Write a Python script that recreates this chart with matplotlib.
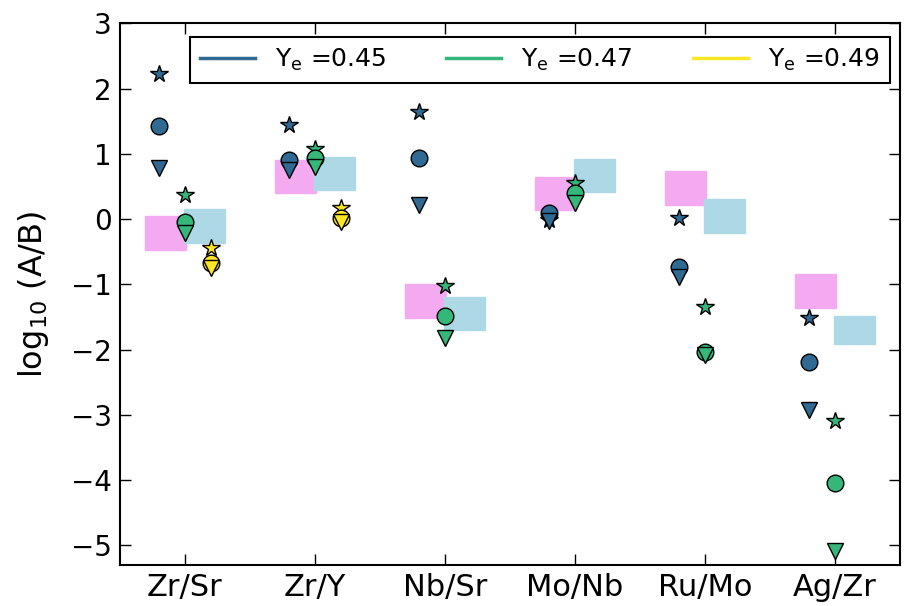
import numpy as np
import matplotlib
matplotlib.use("Agg")
import matplotlib.pyplot as plt
from matplotlib.lines import Line2D

# ratios on the x axis
categories = ['Zr/Sr', 'Zr/Y', 'Nb/Sr', 'Mo/Nb', 'Ru/Mo', 'Ag/Zr']

# observed ranges (pink / light blue boxes)
pink_lo = [-0.48, 0.40, -1.51, 0.14, 0.22, -1.36]
pink_hi = [0.04, 0.91, -0.99, 0.65, 0.73, -0.84]
blue_lo = [-0.36, 0.44, -1.70, 0.41, -0.21, -1.92]
blue_hi = [0.15, 0.95, -1.19, 0.92, 0.31, -1.48]

# model values for each Ye (star, circle, triangle)
star_45 = [2.22, 1.44, 1.64, -0.02, 0.02, -1.51]
circ_45 = [1.42, 0.90, 0.93, 0.10, -0.73, -2.19]
tri_45 = [0.78, 0.75, 0.21, -0.03, -0.88, -2.92]

star_47 = [0.37, 1.07, -1.02, 0.55, -1.34, -3.10]
circ_47 = [-0.05, 0.93, -1.49, 0.40, -2.03, -4.04]
tri_47 = [-0.22, 0.80, -1.82, 0.24, -2.08, -5.09]

star_49 = [-0.45, 0.17, np.nan, np.nan, np.nan, np.nan]
circ_49 = [-0.68, 0.01, np.nan, np.nan, np.nan, np.nan]
tri_49 = [-0.75, -0.04, np.nan, np.nan, np.nan, np.nan]

ye_labels = [r'Y$_{\rm e}$ =0.45', r'Y$_{\rm e}$ =0.47', r'Y$_{\rm e}$ =0.49']
colors = ['#306a93', '#35b779', '#fde725']
offsets = [-0.2, 0.0, 0.2]

x = np.arange(1, len(categories) + 1)

fig = plt.figure(figsize=(9.07, 6.06), dpi=100)
ax = fig.add_axes([0.1323, 0.0677, 0.8600, 0.8939])

# observation boxes
ax.bar(x - 0.15, np.array(pink_hi) - np.array(pink_lo), width=0.31, bottom=pink_lo,
       color='#f3aaf0', edgecolor='#f3aaf0', lw=1, zorder=1)
ax.bar(x + 0.15, np.array(blue_hi) - np.array(blue_lo), width=0.31, bottom=blue_lo,
       color='#add8e6', edgecolor='#add8e6', lw=1, zorder=1)

series = [(star_45, circ_45, tri_45), (star_47, circ_47, tri_47), (star_49, circ_49, tri_49)]
for (st, ci, tr), c, off in zip(series, colors, offsets):
    ax.plot(x + off, st, ls='none', marker='*', ms=13, mfc=c, mec='k', mew=1, zorder=3)
    ax.plot(x + off, ci, ls='none', marker='o', ms=12, mfc=c, mec='k', mew=1, zorder=3)
    ax.plot(x + off, tr, ls='none', marker='v', ms=12, mfc=c, mec='k', mew=1, zorder=3)

ax.set_xlim(0.5, 6.5)
ax.set_ylim(-5.3, 3)
ax.set_xticks(x)
ax.set_xticklabels(categories, fontsize=22)
ax.set_yticks(np.arange(-5, 4))
ax.tick_params(axis='y', labelsize=20)
ax.tick_params(direction='in', length=8, width=1, top=True, right=True, pad=6)
for sp in ax.spines.values():
    sp.set_linewidth(1.5)
ax.set_ylabel(r'log$_{10}$ (A/B)', fontsize=23)
ax.yaxis.set_label_coords(-0.088, 0.5)

handles = [Line2D([], [], color=c, lw=2.5) for c in colors]
leg = ax.legend(handles, ye_labels, ncol=3, loc='upper left', mode='expand',
                bbox_to_anchor=(0.0897, 0.0, 0.897, 0.975), borderaxespad=0,
                fontsize=18, handlelength=2.2, handletextpad=0.8,
                fancybox=False, framealpha=1)
leg.get_frame().set_edgecolor('k')
leg.get_frame().set_linewidth(1.5)

fig.savefig('out.png', dpi=100)
